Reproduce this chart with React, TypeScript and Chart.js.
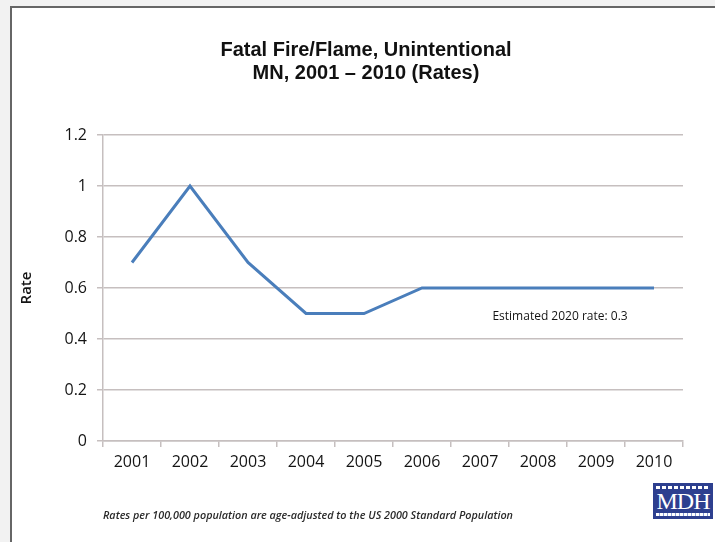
import React, { useEffect, useRef } from "react";
import { Chart, registerables } from "chart.js";

Chart.register(...registerables);

const years = ["2001", "2002", "2003", "2004", "2005", "2006", "2007", "2008", "2009", "2010"];
const rates = [0.7, 1.0, 0.7, 0.5, 0.5, 0.6, 0.6, 0.6, 0.6, 0.6];
const yTickValues = [0, 0.2, 0.4, 0.6, 0.8, 1.0, 1.2];
const titleLines = ["Fatal Fire/Flame, Unintentional", "MN, 2001 \u2013 2010 (Rates)"];
const yAxisTitle = "Rate";
const noteText = "Estimated 2020 rate: 0.3";
const footnote = "Rates per 100,000 population are age-adjusted to the US 2000 Standard Population";

const GRID = "#c6bfbf";
const TEXT = "#141414";

const titlePlugin = {
  id: "twoLineTitle",
  afterDraw(chart: any) {
    const ctx = chart.ctx;
    ctx.save();
    ctx.font = "bold 20px 'Liberation Sans Narrow', 'Arial Narrow', sans-serif";
    ctx.fillStyle = "#111";
    ctx.textAlign = "center";
    ctx.textBaseline = "middle";
    titleLines.forEach((t, i) => ctx.fillText(t, 366, 50 + i * 23));
    ctx.restore();
  },
};

const notePlugin = {
  id: "rateNote",
  afterDatasetsDraw(chart: any) {
    const { ctx, scales } = chart;
    const x = scales.x.getPixelForValue(7.38);
    const y = scales.y.getPixelForValue(0.488);
    ctx.save();
    ctx.font = "12px 'Open Sans', sans-serif";
    ctx.fillStyle = TEXT;
    ctx.textAlign = "center";
    ctx.textBaseline = "middle";
    ctx.fillText(noteText, x, y);
    ctx.restore();
  },
};

function Logo() {
  return (
    <div
      style={{
        position: "absolute",
        left: 653,
        top: 483,
        width: 60,
        height: 36,
        background: "#2d3f8f",
        overflow: "hidden",
      }}
    >
      <div
        style={{
          position: "absolute",
          left: 3,
          right: 3,
          top: 3,
          height: 3,
          background: "repeating-linear-gradient(90deg, #fff 0 4px, transparent 4px 6px)",
        }}
      />
      <div
        style={{
          position: "absolute",
          left: 0,
          right: 0,
          top: 6,
          textAlign: "center",
          color: "#fff",
          fontFamily: "'Liberation Serif', 'DejaVu Serif', serif",
          fontSize: 24,
          lineHeight: "24px",
          letterSpacing: -1,
        }}
      >
        MDH
      </div>
      <div
        style={{
          position: "absolute",
          left: 3,
          right: 3,
          top: 30,
          height: 3,
          background: "repeating-linear-gradient(90deg, #fff 0 3px, #8da0d8 3px 4px)",
        }}
      />
    </div>
  );
}

export default function App() {
  const ref = useRef<HTMLCanvasElement | null>(null);

  useEffect(() => {
    if (!ref.current) return;
    const chart = new Chart(ref.current, {
      type: "line",
      data: {
        labels: years,
        datasets: [
          {
            label: "Rate",
            data: rates,
            borderColor: "#4a7ebb",
            borderWidth: 3,
            pointRadius: 0,
            tension: 0,
            fill: false,
          },
        ],
      },
      options: {
        animation: false,
        responsive: false,
        maintainAspectRatio: false,
        layout: { padding: { top: 135, left: 10, right: 32, bottom: 61 } },
        plugins: {
          legend: { display: false },
          title: { display: false },
          tooltip: { enabled: false },
        },
        scales: {
          x: {
            type: "category",
            offset: true,
            grid: {
              display: true,
              drawOnChartArea: false,
              offset: true,
              tickLength: 6,
              color: GRID,
              lineWidth: 1.5,
            },
            border: { display: true, color: GRID, width: 1.5 },
            ticks: {
              font: { family: "'Open Sans', sans-serif", size: 16 },
              color: TEXT,
              padding: 6,
              maxRotation: 0,
              autoSkip: false,
            },
            afterFit: (s: any) => {
              s.height = 40;
            },
          },
          y: {
            min: 0,
            max: 1.2,
            afterBuildTicks: (s: any) => {
              s.ticks = yTickValues.map((v) => ({ value: v }));
            },
            ticks: {
              font: { family: "'Open Sans', sans-serif", size: 16 },
              color: TEXT,
              padding: 10,
              callback: (v: any) => String(Math.round(Number(v) * 10) / 10),
            },
            grid: { color: GRID, lineWidth: 1.5, tickLength: 6 },
            border: { display: true, color: GRID, width: 1.5 },
            title: {
              display: true,
              text: yAxisTitle,
              font: { family: "'Open Sans', sans-serif", size: 15, weight: "600" },
              color: TEXT,
              padding: { top: 8, bottom: 0 },
            },
            afterFit: (s: any) => {
              s.width = 93;
            },
          },
        },
      },
      plugins: [titlePlugin, notePlugin],
    });
    return () => chart.destroy();
  }, []);

  return (
    <div style={{ position: "absolute", left: 0, top: 0, width: 715, height: 542, background: "#f2f2f2", overflow: "hidden" }}>
      <div
        style={{
          position: "absolute",
          left: 10,
          top: 6,
          right: -2,
          bottom: -2,
          background: "#fff",
          borderLeft: "2px solid #666",
          borderTop: "2px solid #666",
        }}
      />
      <canvas ref={ref} width={715} height={542} style={{ position: "absolute", left: 0, top: 0, width: 715, height: 542 }} />
      <div
        style={{
          position: "absolute",
          left: 103,
          top: 507,
          fontFamily: "'Open Sans', sans-serif",
          fontStyle: "italic",
          fontWeight: 600,
          fontSize: 10.8,
          lineHeight: "16px",
          color: "#2a2a2a",
          whiteSpace: "nowrap",
        }}
      >
        {footnote}
      </div>
      <Logo />
    </div>
  );
}
